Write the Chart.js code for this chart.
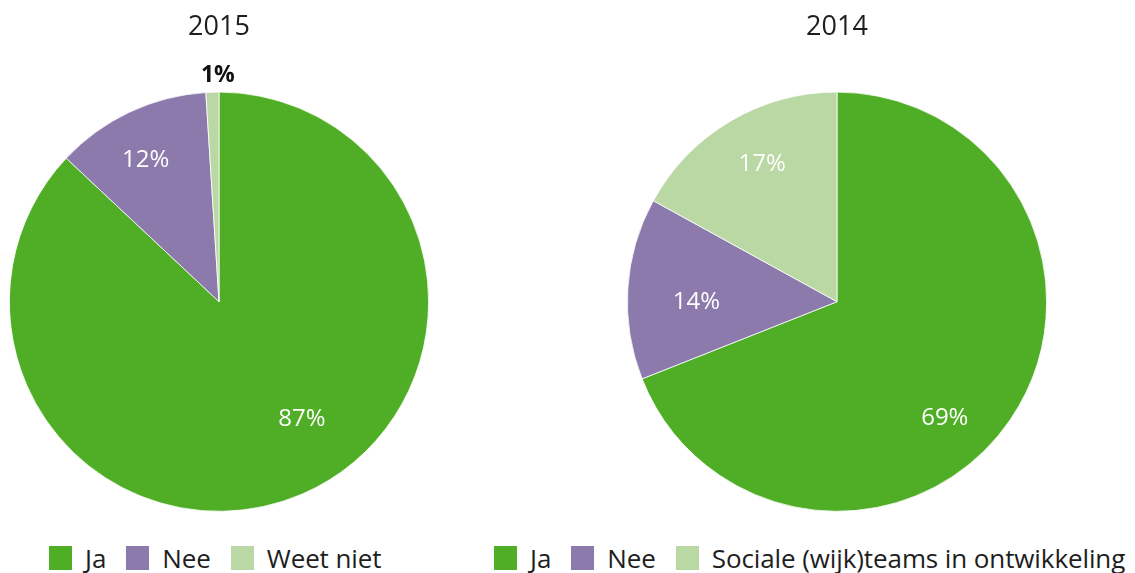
<!DOCTYPE html>
<html>
<head>
<meta charset="utf-8">
<script src="https://cdn.jsdelivr.net/npm/chart.js@4.4.0/dist/chart.umd.min.js"></script>
<style>
  body { margin: 0; background: #fff; }
  #wrap { position: relative; width: 1135px; height: 573px; font-family: "Open Sans", sans-serif; }
  canvas { position: absolute; top: 0; }
  .legend { position: absolute; top: 546px; display: flex; align-items: center; font-size: 26px; color: #1e1e1e; white-space: nowrap; letter-spacing: -0.1px; }
  .legend span.box { display: inline-block; width: 23px; height: 24px; margin-right: 13px; }
  .legend span.txt { margin-right: 20px; line-height: 24px; }
</style>
</head>
<body>
<div id="wrap">
  <canvas id="chart2015"></canvas>
  <canvas id="chart2014"></canvas>
  <div class="legend" id="legend2015" style="left:49px"></div>
  <div class="legend" id="legend2014" style="left:494px"></div>
</div>
<script>
const labels2015 = ["Ja", "Nee", "Weet niet"];
const values2015 = [87, 12, 1];

const labels2014 = ["Ja", "Nee", "Sociale (wijk)teams in ontwikkeling"];
const values2014 = [69, 14, 17];

const colors = ["#4fad26", "#8b7aab", "#bad8a3"];

// percentage labels on the slices, small slices get their label outside
// nudge = small pixel shift per label, to sit where the original put them
const sliceLabels = {
    id: "sliceLabels",
    afterDatasetsDraw(chart, args, opts) {
        const ctx = chart.ctx;
        const meta = chart.getDatasetMeta(0);
        const data = chart.data.datasets[0].data;
        const total = data.reduce((a, b) => a + b, 0);
        const nudge = opts.nudge || [];
        ctx.save();
        ctx.textAlign = "center";
        ctx.textBaseline = "middle";
        meta.data.forEach((arc, i) => {
            const p = arc.getProps(["x", "y", "startAngle", "endAngle", "outerRadius"], true);
            const mid = (p.startAngle + p.endAngle) / 2;
            const share = data[i] / total;
            const n = nudge[i] || [0, 0];
            let r;
            if (share < 0.03) {
                r = p.outerRadius * 1.09;
                ctx.fillStyle = "#111";
                ctx.font = "bold 23px 'Open Sans'";
            } else {
                r = p.outerRadius * 0.72;
                ctx.fillStyle = "#fff";
                ctx.font = "24px 'Open Sans'";
            }
            ctx.fillText(data[i] + "%", p.x + Math.cos(mid) * r + n[0], p.y + Math.sin(mid) * r + n[1]);
        });
        ctx.restore();
    }
};

function drawPie(id, left, width, title, labels, values, pad, nudge) {
    const canvas = document.getElementById(id);
    canvas.style.left = left + "px";
    canvas.style.width = width + "px";
    canvas.style.height = "530px";
    canvas.width = width;
    canvas.height = 530;

    new Chart(canvas, {
        type: "pie",
        data: {
            labels: labels,
            datasets: [{
                data: values,
                backgroundColor: colors,
                borderColor: "#fff",
                borderWidth: 0.8
            }]
        },
        options: {
            responsive: false,
            animation: false,
            layout: { padding: pad },
            plugins: {
                legend: { display: false },
                tooltip: { enabled: false },
                title: {
                    display: true,
                    text: title,
                    color: "#1e1e1e",
                    font: { family: "Open Sans", size: 27, weight: "normal" },
                    padding: { top: 11, bottom: 48 }
                },
                sliceLabels: { nudge: nudge }
            }
        },
        plugins: [sliceLabels]
    });
}

function drawLegend(id, labels) {
    const el = document.getElementById(id);
    labels.forEach((l, i) => {
        const box = document.createElement("span");
        box.className = "box";
        box.style.background = colors[i];
        const txt = document.createElement("span");
        txt.className = "txt";
        txt.textContent = l;
        el.appendChild(box);
        el.appendChild(txt);
    });
}

drawPie("chart2015", 0, 470, "2015", labels2015, values2015,
    { left: 9, right: 41, top: 0, bottom: 18 }, [[23, -21], [-9, -5], [6, 2]]);
drawPie("chart2014", 470, 665, "2014", labels2014, values2014,
    { left: 157, right: 88, top: 0, bottom: 18 }, [[-17, 32], [10, 10], [2, -8]]);
drawLegend("legend2015", labels2015);
drawLegend("legend2014", labels2014);
</script>
</body>
</html>
